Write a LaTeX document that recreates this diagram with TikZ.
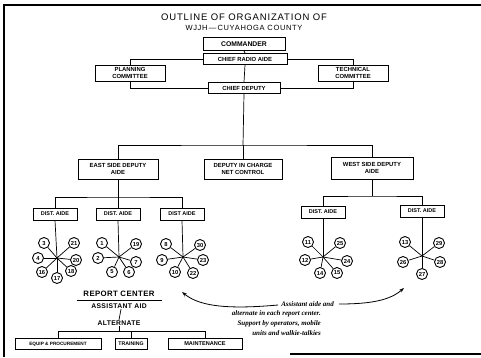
\documentclass[tikz,border=0pt]{standalone}
\usepackage{fontspec}
\setmainfont{Liberation Sans}
\newfontfamily\handfont{Liberation Serif}
\usetikzlibrary{arrows.meta}
\begin{document}
\begin{tikzpicture}[x=1pt,y=-1pt,
  box/.style={draw, line width=1pt, inner sep=1pt, align=center,
    font=\fontsize{5.9}{6.4}\selectfont\bfseries},
  num/.style={draw, circle, line width=0.9pt, fill=white, minimum size=11pt, inner sep=0pt,
    font=\fontsize{5.8}{6}\selectfont\bfseries},
  conn/.style={line width=0.7pt},
  frame/.style={line width=1.1pt},
  note/.style={font=\handfont\itshape\bfseries\fontsize{7}{8}\selectfont, inner sep=0pt, anchor=east},
  lbl/.style={inner sep=0.5pt},
  arr/.style={line width=0.8pt, -{Stealth[length=5pt,width=3.5pt]}}
]
\useasboundingbox (0,0) rectangle (481,357);
% frame
\draw[frame] (3,5) -- (481,5);
\draw[frame] (4,5) -- (4,357);
\draw[frame] (290,354) -- (481,354);
% title
\node[font=\fontsize{9.5}{10}\selectfont\addfontfeature{LetterSpace=9}] (t1) at (244,17) {OUTLINE OF ORGANIZATION OF};
\node[font=\fontsize{7.5}{8}\selectfont\addfontfeature{LetterSpace=9}] (t2) at (244,28) {WJJH\,—\,CUYAHOGA COUNTY};
% top boxes
\node[box, minimum width=82pt, minimum height=13pt, font=\fontsize{6.8}{7.5}\selectfont\bfseries] (cmd) at (244,44) {COMMANDER};
\node[box, minimum width=84pt, minimum height=11pt] (cra) at (245,59) {CHIEF RADIO AIDE};
\node[box, minimum width=70pt, minimum height=16pt] (plan) at (130,73) {PLANNING\\COMMITTEE};
\node[box, minimum width=70pt, minimum height=16pt] (tech) at (353,73) {TECHNICAL\\COMMITTEE};
\node[box, minimum width=72pt, minimum height=11pt] (cd) at (244,88) {CHIEF DEPUTY};
\draw[conn] (cmd.south) -- (cra.north);
\draw[conn] (cra.west) -| (plan.north);
\draw[conn] (cra.east) -| (tech.north);
\draw[conn] (cra.south) -- (cd.north);
\draw[conn] (plan.south) |- (cd.west);
\draw[conn] (tech.south) |- (cd.east);
% deputies
\node[box, minimum width=80pt, minimum height=20pt] (east) at (118,169) {EAST SIDE DEPUTY\\AIDE};
\node[box, minimum width=78pt, minimum height=20pt] (net) at (243,169) {DEPUTY IN CHARGE\\NET CONTROL};
\node[box, minimum width=82pt, minimum height=22pt] (west) at (372,168) {WEST SIDE DEPUTY\\AIDE};
\coordinate (bus1) at (243,145);
\draw[conn] (cd.south) -- (bus1);
\draw[conn] (east.north) |- (bus1) -| (west.north);
\draw[conn] (bus1) -- (net.north);
% district aides
\tikzset{dist/.style={box, minimum width=44pt, minimum height=12pt, font=\fontsize{5.5}{6}\selectfont\bfseries}}
\node[dist] (d1) at (55,214) {DIST. AIDE};
\node[dist] (d2) at (118,214) {DIST. AIDE};
\node[dist] (d3) at (182,214) {DIST AIDE};
\node[dist] (d4) at (323,212) {DIST. AIDE};
\node[dist] (d5) at (422,211) {DIST. AIDE};
\coordinate (bus2) at (118,197);
\coordinate (bus3) at (372,196);
\draw[conn] (east.south) -- (bus2);
\draw[conn] (d1.north) |- (bus2) -| (d3.north);
\draw[conn] (bus2) -- (d2.north);
\draw[conn] (west.south) -- (bus3);
\draw[conn] (d4.north) |- (bus3) -| (d5.north);
% hubs
\coordinate (h1) at (57,258);
\coordinate (h2) at (119,257);
\coordinate (h3) at (183,257);
\coordinate (h4) at (323,257);
\coordinate (h5) at (422,256);
\draw[conn] (d1.south) -- (h1);
\draw[conn] (d2.south) -- (h2);
\draw[conn] (d3.south) -- (h3);
\draw[conn] (d4.south) -- (h4);
\draw[conn] (d5.south) -- (h5);
\foreach \n/\x/\y in {3/44/243, 21/74/243, 4/38/258, 20/76/260, 16/42/272, 17/57/278, 18/71/271}
  {\node[num] (c\n) at (\x,\y) {\n}; \draw[conn] (h1) -- (c\n);}
\foreach \n/\x/\y in {1/102/243, 19/136/244, 2/98/258, 7/136/262, 5/112/272, 6/129/272}
  {\node[num] (c\n) at (\x,\y) {\n}; \draw[conn] (h2) -- (c\n);}
\foreach \n/\x/\y in {8/166/244, 30/200/245, 9/162/260, 23/203/260, 10/175/272, 22/193/273}
  {\node[num] (c\n) at (\x,\y) {\n}; \draw[conn] (h3) -- (c\n);}
\foreach \n/\x/\y in {11/308/242, 25/340/243, 12/305/260, 24/347/261, 14/320/273, 15/337/273}
  {\node[num] (c\n) at (\x,\y) {\n}; \draw[conn] (h4) -- (c\n);}
\foreach \n/\x/\y in {13/405/242, 29/439/243, 26/403/262, 28/440/262, 27/422/274}
  {\node[num] (c\n) at (\x,\y) {\n}; \draw[conn] (h5) -- (c\n);}
% report center
\node[lbl, font=\fontsize{7.8}{8.5}\selectfont\bfseries\addfontfeature{LetterSpace=5}] (rc) at (119,294) {REPORT CENTER};
\draw[conn] (77,300) -- (162,300);
\node[lbl, font=\fontsize{6.8}{7.5}\selectfont\bfseries\addfontfeature{LetterSpace=5}] (aa) at (119,306) {ASSISTANT AID};
\node[lbl, font=\fontsize{6.8}{7.5}\selectfont\bfseries\addfontfeature{LetterSpace=5}] (alt) at (119,323) {ALTERNATE};
\draw[conn] ([xshift=2pt]aa.south) -- (alt.north);
\node[box, minimum width=86pt, minimum height=11pt, font=\fontsize{4.7}{5.5}\selectfont\bfseries] (eq) at (58,344) {EQUIP \& PROCUREMENT};
\node[box, minimum width=32pt, minimum height=11pt, font=\fontsize{5.2}{6}\selectfont\bfseries] (tr) at (131,344) {TRAINING};
\node[box, minimum width=74pt, minimum height=11pt, font=\fontsize{5.6}{6}\selectfont\bfseries] (mnt) at (205,344) {MAINTENANCE};
\coordinate (bus4) at (119,331);
\draw[conn] (alt.south) -- (bus4);
\draw[conn] (eq.north) |- (bus4) -| (mnt.north);
\draw[conn] (tr.north) -- (tr.north |- bus4);
% note
\node[note] (n1) at (334,304) {Assistant aide and};
\node[note] (n2) at (321,314) {alternate in each report center.};
\node[note] (n3) at (321,323.5) {Support by operators, mobile};
\node[note] (n4) at (321,333) {units and walkie-talkies};
\coordinate (ae1) at (182,292);
\coordinate (ae2) at (404,288);
\draw[arr] ([xshift=-3pt,yshift=-1pt]n1.west) .. controls (222,310) and (198,305) .. (ae1);
\draw[arr] ([xshift=5pt]n1.east) .. controls (372,304) and (390,300) .. (ae2);
\end{tikzpicture}
\end{document}
